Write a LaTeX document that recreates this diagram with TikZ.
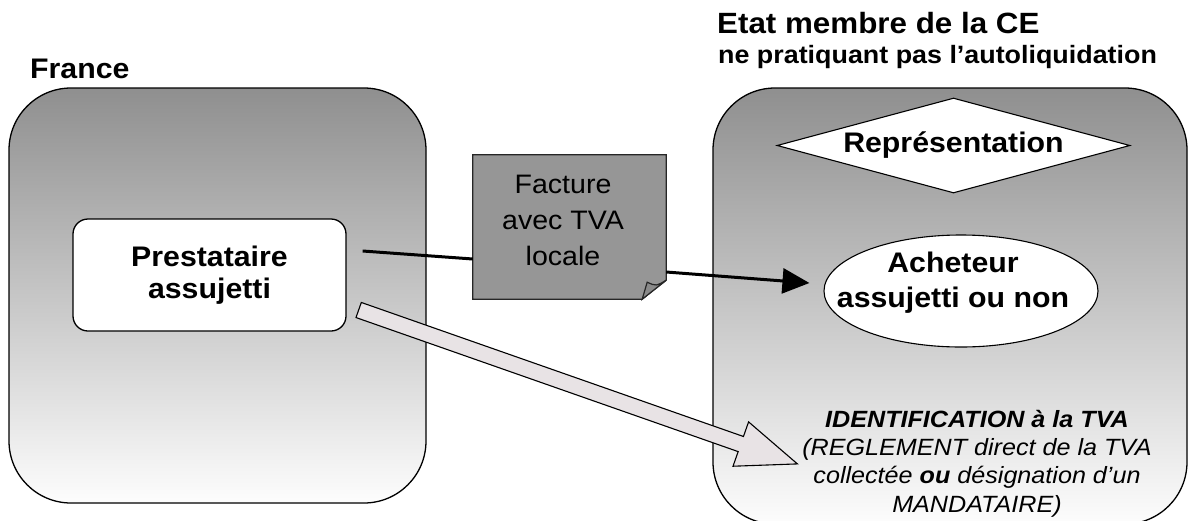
\documentclass[tikz,border=0pt]{standalone}
\usepackage{fontspec}
\setmainfont{Liberation Sans}[FakeStretch=1.07]
\usetikzlibrary{shapes.geometric,arrows.meta,calc}
\newcommand\fsz[2]{\fontsize{#1pt}{#2pt}\selectfont}
\definecolor{topgray}{RGB}{143,143,143}
\definecolor{botgray}{RGB}{253,253,253}
\definecolor{factgray}{RGB}{150,150,150}
\definecolor{foldgray}{RGB}{138,138,138}
\definecolor{blockfill}{RGB}{232,227,229}
\begin{document}
\begin{tikzpicture}[x=1pt,y=-1pt,
  zone/.style={draw=black,line width=1.3pt,rounded corners=62pt,top color=topgray,bottom color=botgray,inner sep=0pt},
  prestbox/.style={draw=black,line width=1.3pt,fill=white,rounded corners=15pt,minimum width=273pt,minimum height=112pt,inner sep=0pt,align=center,font=\fsz{28.3}{32}\bfseries},
  rep/.style={diamond,draw=black,line width=1.1pt,fill=white,shape aspect=3.716,minimum width=353pt,minimum height=95pt,inner sep=0pt,font=\fsz{28.3}{32}\bfseries},
  ell/.style={ellipse,draw=black,line width=1.1pt,fill=white,minimum width=274pt,minimum height=112pt,inner sep=0pt},
  boldtxt/.style={inner sep=0pt,align=center,font=\fsz{28.3}{35}\bfseries},
  title/.style={inner sep=0pt,anchor=base west},
  conn/.style={line width=3pt,draw=black},
  factshape/.style={draw=black!85,line width=1.2pt,fill=factgray},
  foldshape/.style={draw=black!85,line width=1.2pt,fill=foldgray},
  block/.style={draw=black,line width=1.1pt,fill=blockfill,line join=miter}
]
\useasboundingbox (0,0) rectangle (1189,520);
\begin{scope}
\clip (0,0) rectangle (1189,520);
% regions
\node[zone,minimum width=417pt,minimum height=415pt] (france) at (217.5,295.5) {};
\node[zone,minimum width=474pt,minimum height=436pt] (ce) at (950,306) {};
% titles
\node[title,font=\fsz{28.3}{32}\bfseries] (francetitle) at (30,78) {France};
\node[title,font=\fsz{29.3}{32}\bfseries] (cetitle) at (717,33) {Etat membre de la CE};
\node[title,font=\fsz{25.1}{28}\bfseries] (cesub) at (718,63) {ne pratiquant pas l’autoliquidation};
% nodes
\node[prestbox] (prest) at (209.5,275) {Prestataire\\assujetti};
\node[rep] (repr) at (953.5,145.5) {Représentation};
\node[ell] (ach) at (961,291) {};
\node[boldtxt] (achtext) at (953,282.5) {Acheteur\\assujetti ou non};
% invoice
\node[minimum width=193pt,minimum height=144pt,inner sep=0pt] (fact) at (569.5,227) {};
\filldraw[factshape] (fact.north west) -- (fact.north east) -- ($(fact.south east)+(0,-19)$) -- ($(fact.south east)+(-24,0)$) -- (fact.south west) -- cycle;
\filldraw[foldshape] ($(fact.south east)+(-24,0)$) .. controls ($(fact.south east)+(-21,-9)$) .. ($(fact.south east)+(-19,-17)$) .. controls ($(fact.south east)+(-10,-13)$) .. ($(fact.south east)+(0,-19)$) -- cycle;
\node[inner sep=0pt,align=center,font=\fsz{26.7}{36}] (facttext) at (563,220) {Facture\\avec TVA\\locale};
% block arrow
\coordinate (bs) at ($(prest.east)+(12,35)$);
\begin{scope}[shift={(bs)},rotate=-19.33]
\filldraw[block] (0,-8) -- (405,-8) -- (405,-23.5) -- (465,0) -- (405,23.5) -- (405,8) -- (0,8) -- cycle;
\end{scope}
% connectors
\draw[conn] ($(prest.east)+(16,-24)$) -- ($(fact.west)+(0,32)$);
\draw[conn,-{Triangle[length=27pt,width=25pt]}] ($(fact.east)+(0,45)$) -- ($(ach.west)+(-14,-8)$);
% identification text
\node[inner sep=0pt,align=center,font=\fsz{23.5}{28.3}\itshape] (ident) at (977,463.6)
  {\textbf{IDENTIFICATION à la TVA}\\(REGLEMENT direct de la TVA\\collectée \textbf{ou} désignation d’un\\MANDATAIRE)};
\end{scope}
\end{tikzpicture}
\end{document}
